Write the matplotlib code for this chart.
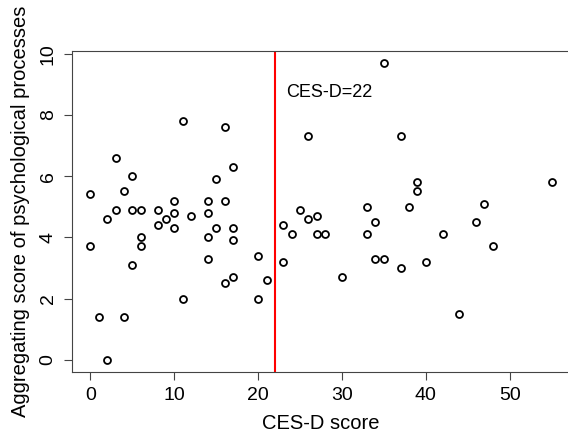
import matplotlib
matplotlib.use("Agg")
import matplotlib.pyplot as plt

# CES-D score vs aggregating score of psychological processes
ces_d = [11, 16, 3, 17, 5, 15, 0, 4,
         10, 14, 16, 3, 5, 6, 8, 10, 14, 12, 2, 9, 8, 10, 15, 17, 6, 14, 17, 0, 6,
         14, 20, 5, 17, 16, 21, 11, 20, 1, 4, 2,
         35, 26, 37, 39, 39, 55,
         33, 38, 47, 25, 26, 27, 23, 34, 46, 24, 27, 28, 33, 42, 48, 23, 34, 35,
         37, 40, 30, 44]
agg = [7.8, 7.6, 6.6, 6.3, 6.0, 5.9, 5.4, 5.5,
       5.2, 5.2, 5.2, 4.9, 4.9, 4.9, 4.9, 4.8, 4.8, 4.7, 4.6, 4.6, 4.4, 4.3, 4.3, 4.3, 4.0, 4.0, 3.9, 3.7, 3.7,
       3.3, 3.4, 3.1, 2.7, 2.5, 2.6, 2.0, 2.0, 1.4, 1.4, 0.0,
       9.7, 7.3, 7.3, 5.8, 5.5, 5.8,
       5.0, 5.0, 5.1, 4.9, 4.6, 4.7, 4.4, 4.5, 4.5, 4.1, 4.1, 4.1, 4.1, 4.1, 3.7, 3.2, 3.3, 3.3,
       3.0, 3.2, 2.7, 1.5]
cutoff = 22
x_ticks = [0, 10, 20, 30, 40, 50]
y_ticks = [0, 2, 4, 6, 8, 10]

plt.rcParams['font.family'] = ['Liberation Sans', 'DejaVu Sans']

fig = plt.figure(figsize=(5.68, 4.41), dpi=100)
ax = fig.add_axes([0.1268, 0.1574, 0.8767, 0.727])

ax.plot(ces_d, agg, 'o', mfc='none', mec='black', ms=5, mew=1.3, clip_on=False)
ax.axvline(cutoff, color='red', lw=1.5)
ax.text(23.3, 8.73, 'CES-D=22', fontsize=13, ha='left', va='center')

ax.set_xlim(-2.2, 57.2)
ax.set_ylim(-0.388, 10.088)
ax.set_xticks(x_ticks)
ax.set_yticks(y_ticks)
ax.tick_params(direction='out', length=6, width=0.8, color='#444', labelsize=14, pad=5)
for lab in ax.get_yticklabels():
    lab.set_rotation(90)
    lab.set_va('center')
for s in ax.spines.values():
    s.set_color('#444')
    s.set_linewidth(0.8)

ax.set_xlabel('CES-D score', fontsize=14.5, labelpad=7)
ax.set_ylabel('Aggregating score of psychological processes', fontsize=14.5, labelpad=7)

fig.savefig('out.png', dpi=100)
